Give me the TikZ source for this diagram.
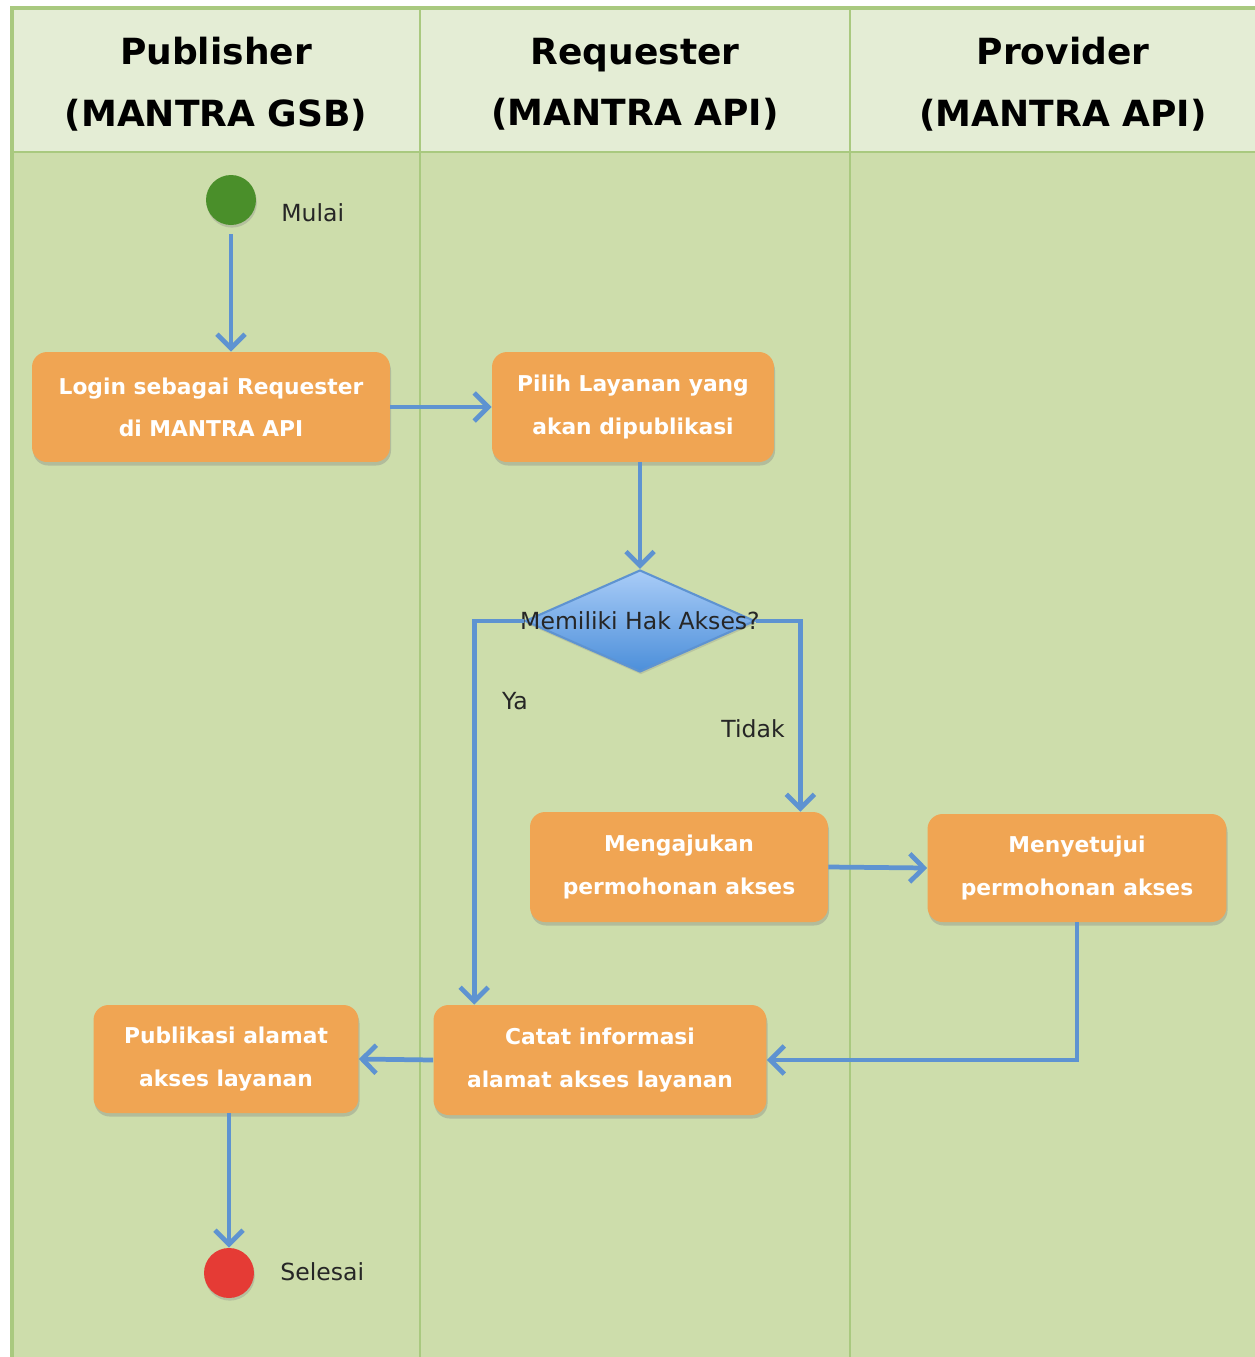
\documentclass[tikz,border=0pt]{standalone}
\usepackage{fontspec}
\setmainfont{DejaVu Sans}
\usepackage{xcolor}
\usepackage{tikz}
\usetikzlibrary{positioning}
\usetikzlibrary{arrows.meta,shapes.geometric,shadows}
\definecolor{lanehead}{HTML}{E4EDD5}
\definecolor{lanebody}{HTML}{CDDDAB}
\definecolor{laneline}{HTML}{A9C97F}
\definecolor{actfill}{HTML}{F0A553}
\definecolor{flowblue}{HTML}{5E93D1}
\definecolor{decidetop}{HTML}{A9CCF7}
\definecolor{decidebot}{HTML}{4C8FDA}
\definecolor{startgreen}{HTML}{4A8F2A}
\definecolor{endred}{HTML}{E53B35}
\tikzset{
	lanetitle/.style = {align=center, inner sep=0,
		font=\fontsize{20.5}{35}\selectfont\bfseries},
	act/.style       = {shape=rectangle, rounded corners=0.3cm,
		fill=actfill, text=white, align=center, inner sep=0,
		font=\fontsize{12.4}{24}\selectfont\bfseries,
		drop shadow={shadow xshift=0.6pt, shadow yshift=-2pt, opacity=0.35}},
	dot/.style       = {shape=circle, minimum size=1cm, inner sep=0,
		drop shadow={shadow xshift=0.5pt, shadow yshift=-1.5pt, opacity=0.3}},
	decide/.style    = {shape=diamond, draw=flowblue, line width=1.2pt,
		top color=decidetop, bottom color=decidebot,
		minimum width=4.6cm, minimum height=2.04cm, inner sep=0,
		drop shadow={shadow xshift=0.5pt, shadow yshift=-1.5pt, opacity=0.25}},
	note/.style      = {inner sep=0, text=black!85,
		font=\fontsize{13.4}{16}\selectfont},
	flow/.style      = {draw=flowblue, line width=2.7pt,
		-{Straight Barb[length=8pt,width=16pt]}}
}

\begin{document}
\begin{tikzpicture}[x=0.02cm, y=-0.02cm]
\useasboundingbox (0,0) rectangle (1255,1357);
\clip (0,0) rectangle (1255,1357);
\fill[white] (0,0) rectangle (1255,1357);
% swimlanes
\fill[lanebody] (12,152) rectangle (1275,1370);
\fill[lanehead] (12,8) rectangle (1275,152);
\draw[laneline, line width=1.8pt] (12,1370) -- (12,8) -- (1275,8);
\draw[laneline, line width=1.2pt] (12,152) -- (1275,152);
\draw[laneline, line width=1pt] (420,8) -- (420,1370);
\draw[laneline, line width=1pt] (850,8) -- (850,1370);
\node [lanetitle] (pubhead) at (216,84) {Publisher\\(MANTRA GSB)};
\node [lanetitle] (reqhead) at (635,84) {Requester\\(MANTRA API)};
\node [lanetitle] (provhead) at (1063,84) {Provider\\(MANTRA API)};

% activities
\node [dot, fill=startgreen] (start) at (231,200) {};
\node [note, anchor=west] (mulai) at (281,213) {Mulai};
\node [act, minimum width=7.16cm, minimum height=2.2cm] (login) at (211,407)
      {Login sebagai Requester\\di MANTRA API};
\node [act, minimum width=5.64cm, minimum height=2.2cm] (pilih) at (633,407)
      {Pilih Layanan yang\\akan dipublikasi};
\node [decide, label={[note]center:Memiliki Hak Akses?}] (hak) at (640,621) {};
\node [act, minimum width=5.96cm, minimum height=2.2cm] (ajukan) at (679,867)
      {Mengajukan\\permohonan akses};
\node [act, minimum width=5.98cm, minimum height=2.16cm] (setujui) at (1077,868)
      {Menyetujui\\permohonan akses};
\node [act, minimum width=6.66cm, minimum height=2.2cm] (catat) at (600,1060)
      {Catat informasi\\alamat akses layanan};
\node [act, minimum width=5.3cm, minimum height=2.16cm] (publik) at (226,1059)
      {Publikasi alamat\\akses layanan};
\node [dot, fill=endred] (stop) at (229,1273) {};
\node [note, anchor=west] (selesai) at (280,1272) {Selesai};
\node [note] (ya) at (515,701) {Ya};
\node [note] (tidak) at (753,729) {Tidak};

% connectors
\draw [flow, shorten <=5pt] (start) -- (start |- login.north);
\draw [flow] (login.east) -- (pilih.west);
\draw [flow] (hak.north |- pilih.south) -- (hak.north);
\draw [flow] (hak.west) -| ([xshift=0.82cm]catat.north west);
\draw [flow] (hak.east) -| ([xshift=-0.56cm]ajukan.north east);
\draw [flow] (ajukan.east) -- (setujui.west);
\draw [flow] (setujui.south) |- (catat.east);
\draw [flow] (catat.west) -- (publik.east);
\draw [flow] (stop.north |- publik.south) -- (stop.north);
\end{tikzpicture}
\end{document}
